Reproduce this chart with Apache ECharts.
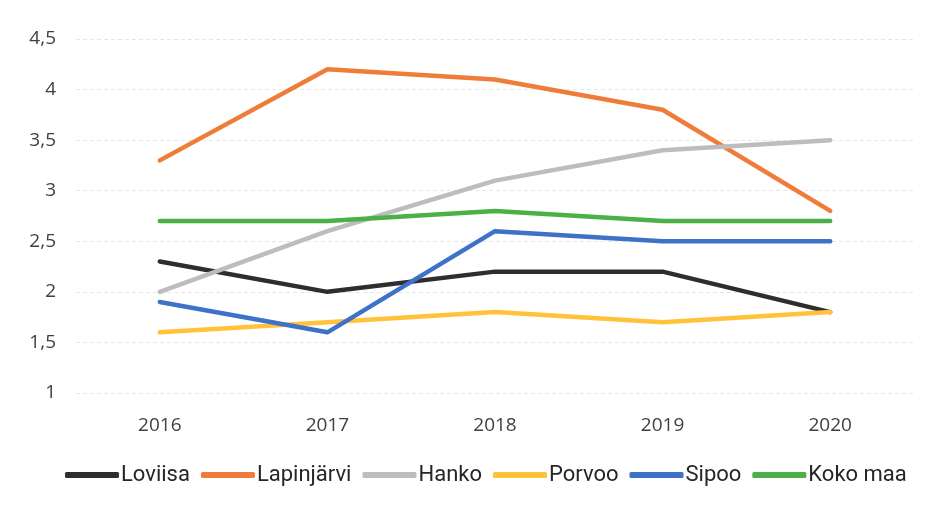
<!DOCTYPE html>
<html>
<head>
<meta charset="utf-8">
<script src="https://cdn.jsdelivr.net/npm/echarts@6/dist/echarts.min.js"></script>
<style>
  html, body { margin: 0; padding: 0; background: #fff; }
  #chart { width: 935px; height: 511px; }
</style>
</head>
<body>
<div id="chart"></div>
<script>
const years = ["2016", "2017", "2018", "2019", "2020"];
const loviisa = [2.3, 2.0, 2.2, 2.2, 1.8];
const lapinjarvi = [3.3, 4.2, 4.1, 3.8, 2.8];
const hanko = [2.0, 2.6, 3.1, 3.4, 3.5];
const porvoo = [1.6, 1.7, 1.8, 1.7, 1.8];
const sipoo = [1.9, 1.6, 2.6, 2.5, 2.5];
const kokoMaa = [2.7, 2.7, 2.8, 2.7, 2.7];

const seriesDefs = [
  { name: "Loviisa", data: loviisa, color: "#2e2e2e" },
  { name: "Lapinjärvi", data: lapinjarvi, color: "#f07c3a" },
  { name: "Hanko", data: hanko, color: "#bdbdbd" },
  { name: "Porvoo", data: porvoo, color: "#ffc23a" },
  { name: "Sipoo", data: sipoo, color: "#3d72c8" },
  { name: "Koko maa", data: kokoMaa, color: "#4caf47" },
];

const font = "'Roboto', sans-serif";
const chart = echarts.init(document.getElementById("chart"));
chart.setOption({
  animation: false,
  grid: { left: 76, right: 21, top: 39, bottom: 118 },
  legend: {
    bottom: 20,
    left: 60,
    itemWidth: 54,
    itemHeight: 6,
    itemGap: 11,
    icon: "roundRect",
    textStyle: { fontFamily: font, fontSize: 22, color: "#262626", padding: [0, 0, 0, -3] },
    data: seriesDefs.map((s) => s.name),
  },
  xAxis: {
    type: "category",
    data: years,
    boundaryGap: true,
    axisLine: { show: false },
    axisTick: { show: false },
    axisLabel: { fontFamily: "'Open Sans', sans-serif", fontSize: 19, color: "#404040", margin: 23 },
  },
  yAxis: {
    type: "value",
    min: 1,
    max: 4.5,
    interval: 0.5,
    axisLine: { show: false },
    axisTick: { show: false },
    axisLabel: {
      fontFamily: "'Open Sans', sans-serif",
      fontSize: 19,
      color: "#404040",
      margin: 20,
      formatter: (v) => String(v).replace(".", ","),
    },
    splitLine: { lineStyle: { color: "#e6e6e6", type: [4, 3], width: 1 } },
  },
  series: seriesDefs.map((s) => ({
    name: s.name,
    type: "line",
    data: s.data,
    symbol: "none",
    color: s.color,
    lineStyle: { width: 4.5, color: s.color, cap: "round", join: "round" },
  })),
});
</script>
</body>
</html>
